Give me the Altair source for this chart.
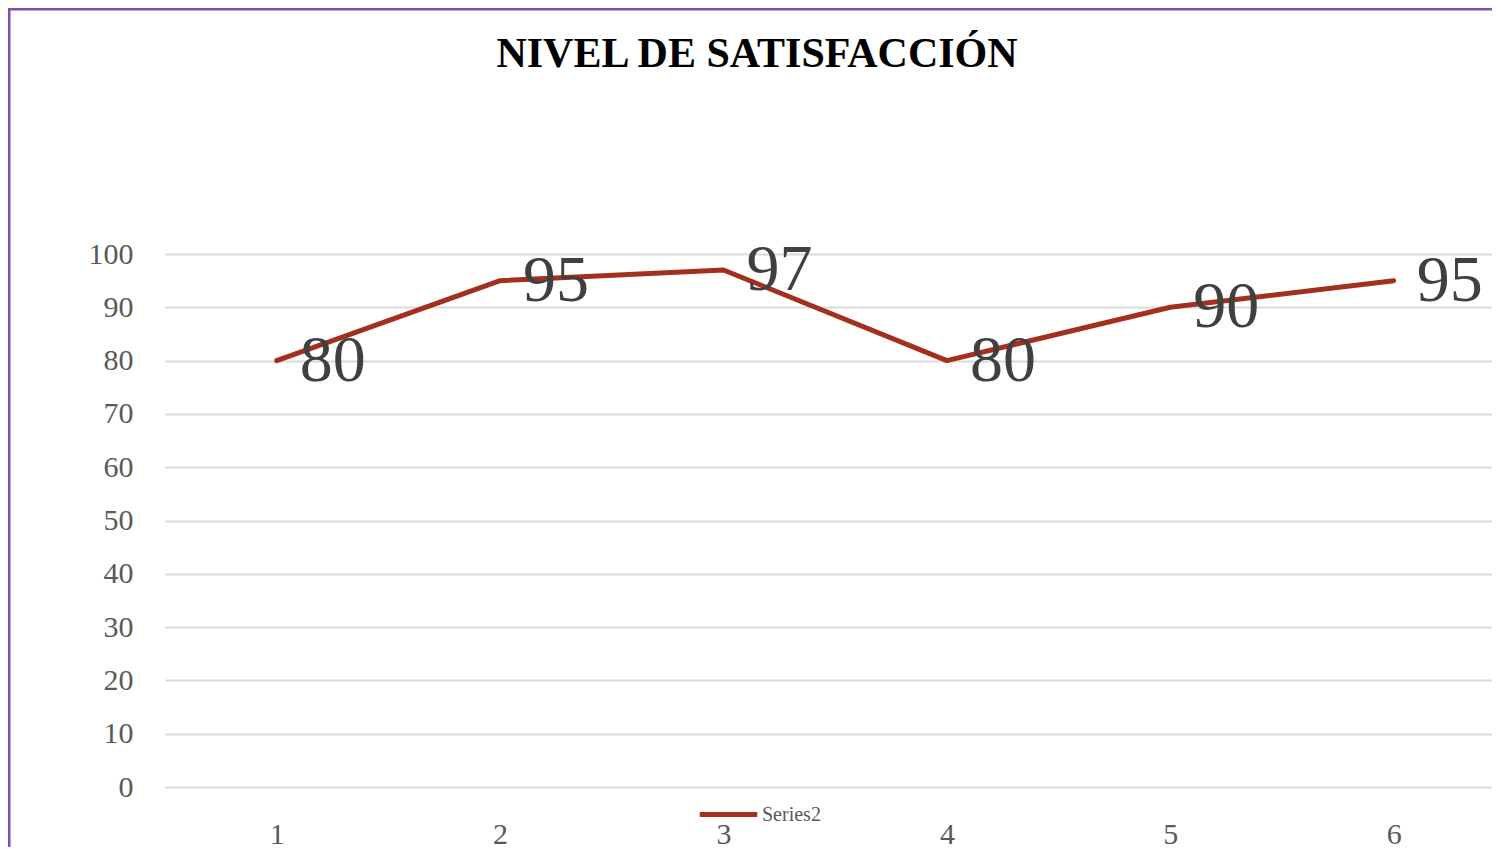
import altair as alt
import pandas as pd

categories = [1, 2, 3, 4, 5, 6]
values = [80, 95, 97, 80, 90, 95]
series_name = "Series2"
title_text = "NIVEL DE SATISFACCIÓN"
y_ticks = [0, 10, 20, 30, 40, 50, 60, 70, 80, 90, 100]

df = pd.DataFrame({"x": categories, "y": values, "serie": [series_name] * len(categories)})

LINE = "#A3301F"
SERIF = "Liberation Serif"
PURPLE = "#7E4DB6"

x_enc = alt.X("x:Q", scale=alt.Scale(domain=[0.5, 6.44], nice=False, zero=False),
              axis=alt.Axis(values=categories, format="d", title=None, grid=False, domain=False,
                            ticks=False, labelFontSize=30, labelFont=SERIF, labelColor="#595959",
                            labelPadding=32))
y_enc = alt.Y("y:Q", scale=alt.Scale(domain=[0, 100], nice=False),
              axis=alt.Axis(values=y_ticks, title=None, domain=False, ticks=False,
                            gridColor="#D9D9D9", gridWidth=2, labelFontSize=30, labelFont=SERIF,
                            labelColor="#595959", labelPadding=32))

line = alt.Chart(df).mark_line(strokeWidth=5, strokeCap="round", strokeJoin="round").encode(
    x=x_enc, y=y_enc,
    color=alt.Color("serie:N", scale=alt.Scale(range=[LINE]),
                    legend=alt.Legend(title=None, orient="none", legendX=532, legendY=529,
                                      symbolType="stroke", symbolSize=3300, symbolStrokeWidth=5,
                                      labelFont=SERIF, labelFontSize=20, labelColor="#595959",
                                      labelOffset=2))
)

labels = alt.Chart(df).mark_text(align="left", baseline="middle", dx=23, dy=0, fontSize=66,
                                 font=SERIF, color="#404040").encode(
    x="x:Q", y="y:Q", text="y:Q"
)

one = pd.DataFrame({"t": [title_text]})
title = alt.Chart(one).mark_text(align="center", baseline="alphabetic", fontSize=42,
                                 fontWeight="bold", font=SERIF, color="#000000").encode(
    text="t:N", x=alt.value(592), y=alt.value(-187))

border_left = alt.Chart(one).mark_rule(color=PURPLE, strokeWidth=3).encode(
    x=alt.value(-156), y=alt.value(-245), y2=alt.value(700))
border_top = alt.Chart(one).mark_rule(color=PURPLE, strokeWidth=3).encode(
    x=alt.value(-157), x2=alt.value(1400), y=alt.value(-245))

chart = alt.layer(line, labels, title, border_left, border_top).properties(
    width=1327, height=533,
    autosize=alt.AutoSizeParams(type="none"),
    padding={"left": 157, "top": 246, "right": 0, "bottom": 60},
).configure(background="white").configure_view(stroke=None)

chart.save("out.html", embed_options={"renderer": "svg", "actions": False})
